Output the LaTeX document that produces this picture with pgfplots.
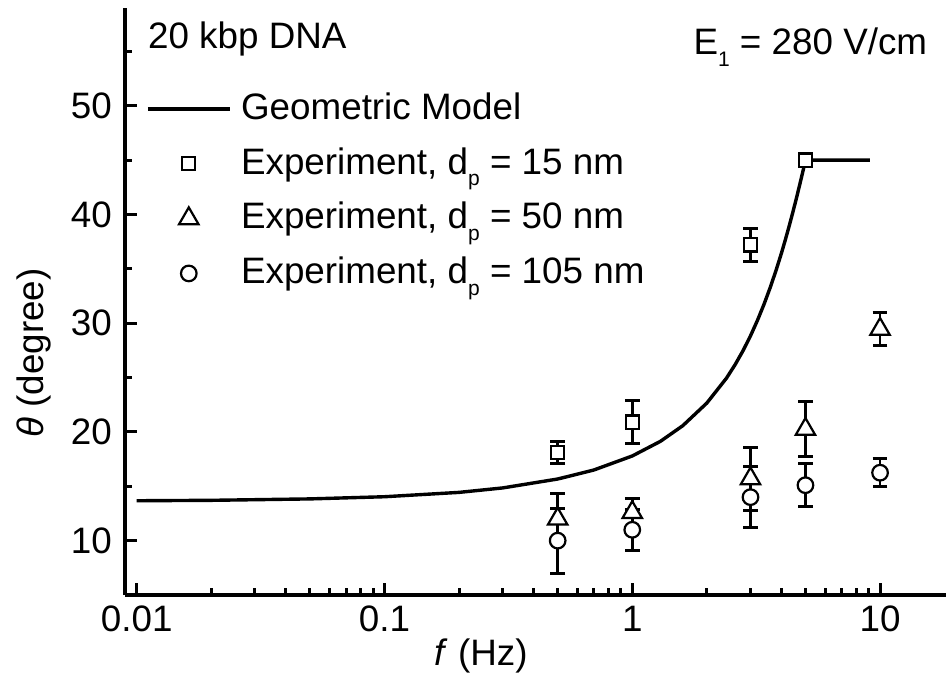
\documentclass[border=0pt]{standalone}
\usepackage{pgfplots}
\pgfplotsset{compat=1.18}
\usepackage{fontspec}
\setmainfont{Liberation Sans}
% low subscript as used in the labels
\newcommand{\lowsub}[1]{\raisebox{-5.8pt}{\fontsize{10.5}{10.5}\selectfont #1}}

\begin{document}
\begin{tikzpicture}
\path[use as bounding box] (-62.5pt,-39.5pt) rectangle (410.5pt,297.5pt);
\begin{axis}[
  scale only axis, width=410.5pt, height=293.5pt,
  xmode=log, xmin=0.00897, xmax=18.46, ymin=5, ymax=59,
  axis lines=left, axis line style={-, line width=2pt},
  tick align=inside,
  xtick={0.01,0.1,1,10}, xticklabels={0.01,0.1,1,10},
  minor xtick={0.02,0.03,0.04,0.05,0.06,0.07,0.08,0.09,0.2,0.3,0.4,0.5,0.6,0.7,0.8,0.9,2,3,4,5,6,7,8,9},
  ytick={10,20,30,40,50}, yticklabels={10,20,30,40,50},
  minor ytick={15,25,35,45,55},
  major tick length=6pt, minor tick length=3.5pt,
  tick style={black, line width=1.5pt},
  font=\fontsize{18.4}{22}\selectfont,
  /pgf/number format/assume math mode=true,
  xticklabel style={yshift=-2pt},
  yticklabel style={xshift=-3pt},
  xlabel={\textit{f} (Hz)},
  xlabel style={at={(axis description cs:0.4336,-0.1193)}, anchor=base},
  ylabel={\textit{θ} (degree)},
  ylabel style={at={(axis description cs:-0.099,0.412)}, anchor=base},
  clip=false,
  legend style={at={(rel axis cs:0.0252,0.8566)}, anchor=north west,
    draw=none, fill=none, inner sep=0pt, row sep=12.6pt, column sep=4.8pt,
    cells={anchor=base west}, nodes={inner sep=0pt}},
  error bars/error bar style={line width=1.4pt, black},
  error bars/error mark options={rotate=90, line width=1.5pt, mark size=3.7pt, black},
  mark legend/.style={legend image code/.code={
      \path[draw=none, fill=none] (0pt,0pt) rectangle (41pt,11pt);
      \draw plot coordinates {(20.5pt,5.2pt)};}},
]
% geometric model
\addplot[black, line width=1.7pt, no marks,
  legend image code/.code={\path[draw=none, fill=none] (0pt,0pt) rectangle (41pt,11pt);
    \draw[line width=1.7pt] (0pt,5.2pt) -- (41pt,5.2pt);}]
  coordinates {(0.01,13.67) (0.02,13.71) (0.05,13.84) (0.1,14.04) (0.2,14.44)
    (0.3,14.85) (0.5,15.67) (0.7,16.50) (1,17.79) (1.3,19.14) (1.6,20.58)
    (2,22.66) (2.4,24.95) (2.6,26.19) (2.8,27.48) (3.0,28.84) (3.2,30.26)
    (3.4,31.73) (3.6,33.26) (3.8,34.83) (4,36.45) (4.15,37.70) (4.3,38.96)
    (4.45,40.24) (4.6,41.53) (4.8,43.26) (4.9,44.13) (5,45) (9.1,45)};
\addlegendentry{Geometric Model}
% d_p = 15 nm
\addplot[black, only marks, mark=square*, mark size=3.3pt,
  mark options={fill=white, line width=1.1pt}, mark legend,
  error bars/.cd, y dir=both, y explicit,
  ] coordinates {(0.5,18.1) +- (0,1.0) (1,20.9) +- (0,2.0)
    (3,37.2) +- (0,1.55) (5,45.0) +- (0,0.4)};
\addlegendentry{Experiment, d\lowsub{p} = 15 nm}
% d_p = 50 nm
\addplot[black, only marks, mark=triangle*, mark size=5.6pt,
  mark options={fill=white, line width=1.1pt}, mark legend,
  error bars/.cd, y dir=both, y explicit,
  ] coordinates {(0.5,12.0) +- (0,2.3) (1,12.6) +- (0,1.3)
    (3,15.7) +- (0,2.9) (5,20.25) +- (0,2.55) (10,29.45) +- (0,1.5)};
\addlegendentry{Experiment, d\lowsub{p} = 50 nm}
% d_p = 105 nm
\addplot[black, only marks, mark=*, mark size=3.9pt,
  mark options={fill=white, line width=1.1pt}, mark legend,
  error bars/.cd, y dir=both, y explicit,
  ] coordinates {(0.5,10.0) +- (0,3.0) (1,11.0) +- (0,1.9)
    (3,14.0) +- (0,2.8) (5,15.1) +- (0,2.0) (10,16.25) +- (0,1.3)};
\addlegendentry{Experiment, d\lowsub{p} = 105 nm}

\node[anchor=base west, inner sep=0pt] at (rel axis cs:0.0277,0.9313) {20 kbp DNA};
\node[anchor=base west, inner sep=0pt] at (rel axis cs:0.692,0.92) {E\lowsub{1} = 280 V/cm};
\end{axis}
\end{tikzpicture}
\end{document}
